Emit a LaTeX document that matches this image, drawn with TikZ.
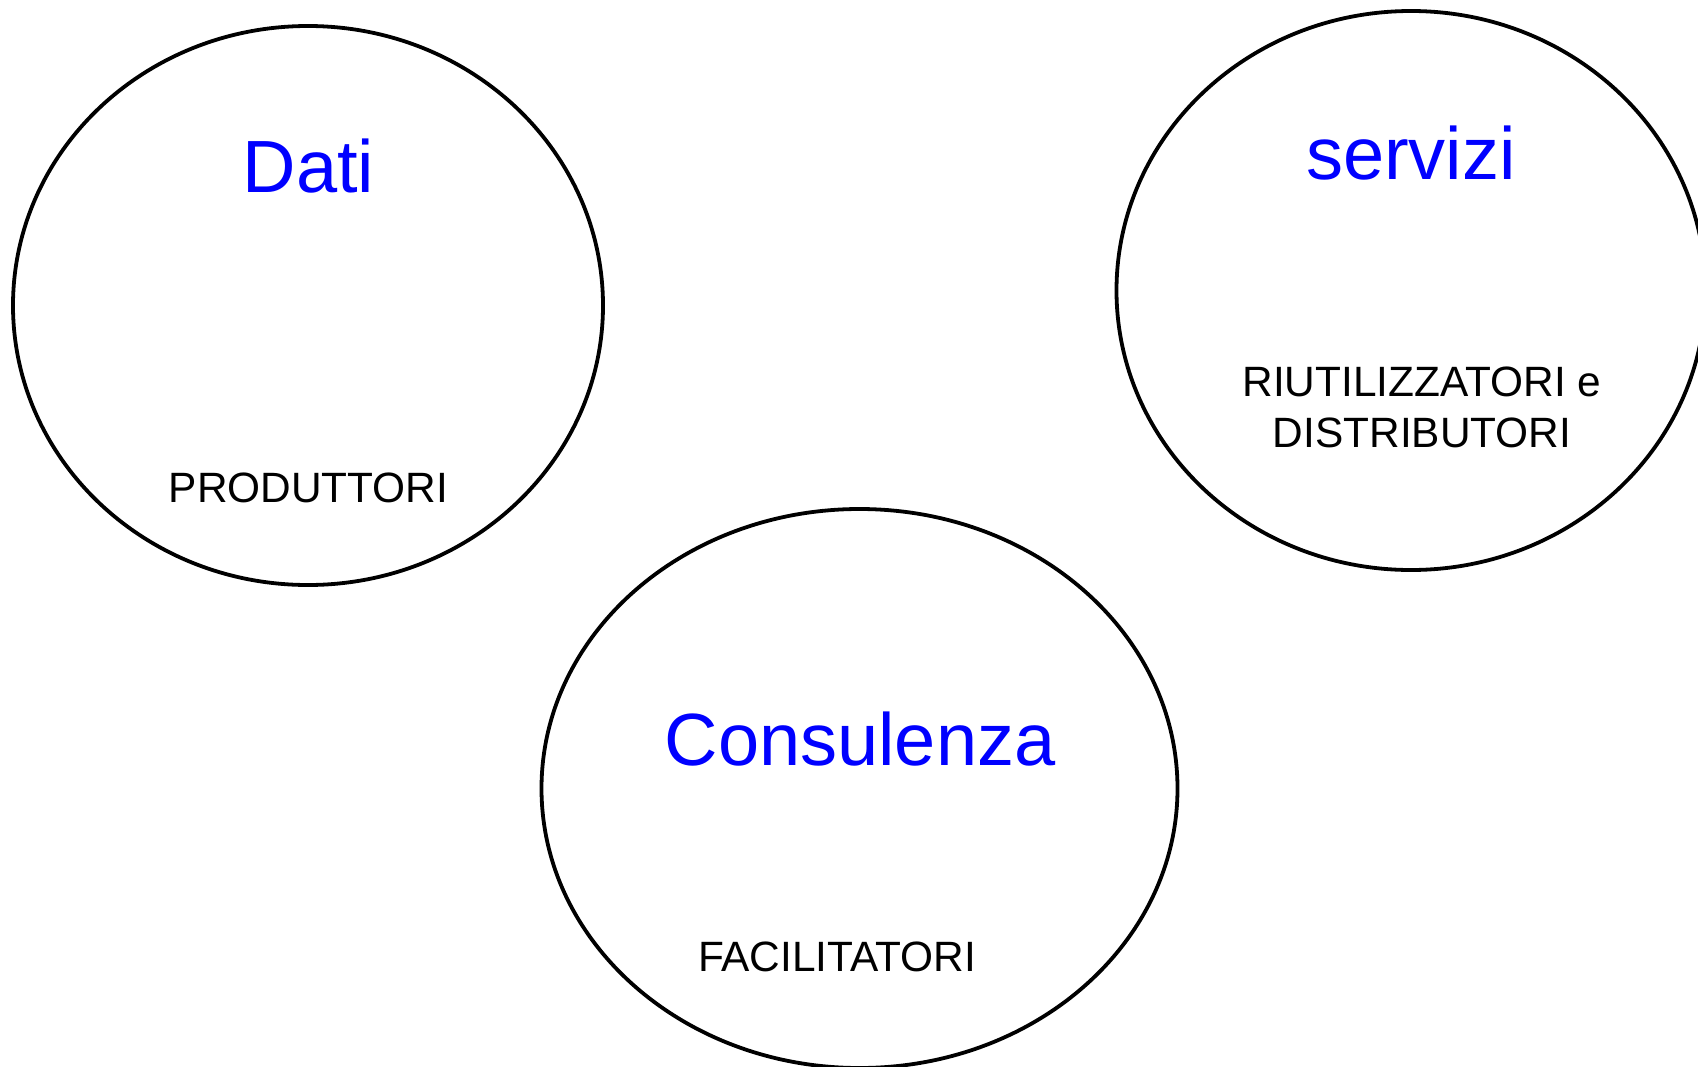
\documentclass[tikz,border=0pt]{standalone}
\usepackage{fontspec}
\setmainfont{Liberation Sans}
\definecolor{titleblue}{RGB}{0,0,255}
\begin{document}
\begin{tikzpicture}[x=0.5pt,y=-0.5pt,
  ring/.style={draw=black,line width=1.9pt},
  title/.style={anchor=base,text=titleblue,font=\fontsize{37}{44}\selectfont,inner sep=0pt},
  role/.style={anchor=base,text=black,font=\fontsize{21.2}{25}\selectfont,inner sep=0pt}]
\useasboundingbox (0,0) rectangle (1698,1066);
\draw[ring] (308,305.5) ellipse [x radius=295,y radius=279.5];
\draw[ring] (1411,290.5) ellipse [x radius=294.5,y radius=279.5];
\draw[ring] (859.5,788.5) ellipse [x radius=318,y radius=279.5];
\node[title] (dati) at (308.5,192) {Dati};
\node[title] (servizi) at (1411,179) {servizi};
\node[title] (consulenza) at (860,765.5) {Consulenza};
\node[role] (produttori) at (308.5,502.5) {PRODUTTORI};
\node[role] (riut) at (1422,396) {RIUTILIZZATORI e};
\node[role] (distr) at (1422,447) {DISTRIBUTORI};
\node[role] (facil) at (837,971) {FACILITATORI};
\end{tikzpicture}
\end{document}
